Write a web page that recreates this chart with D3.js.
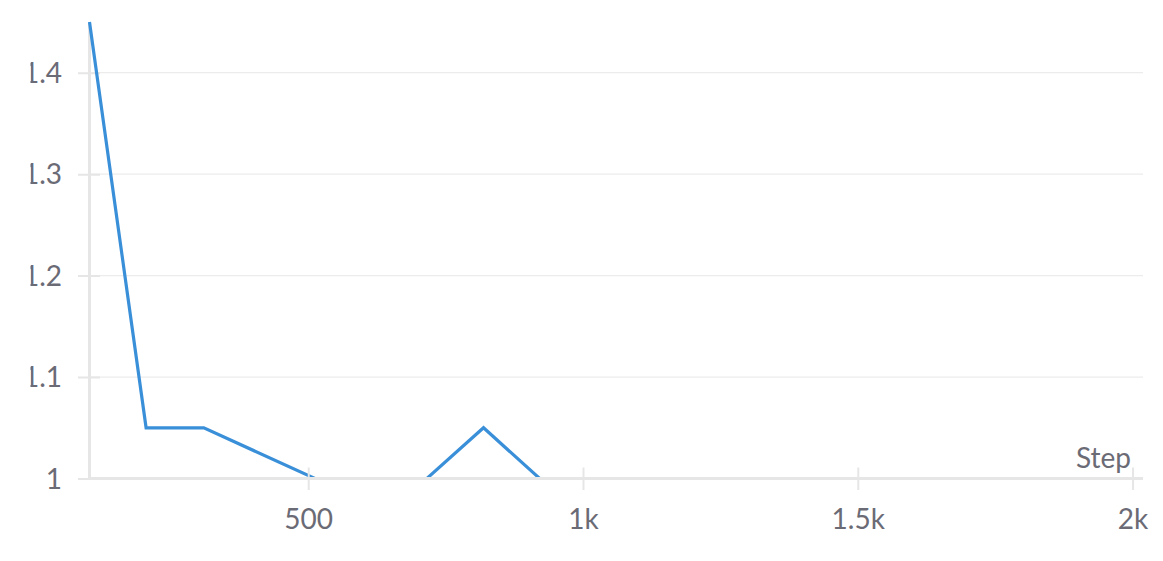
<!DOCTYPE html>
<html>
<head>
<meta charset="utf-8">
<script src="https://cdn.jsdelivr.net/npm/d3@7"></script>
<style>
  html, body { margin: 0; padding: 0; background: #fff; }
  svg { display: block; }
  text { font-family: Lato, "Open Sans", sans-serif; fill: #6b6b76; }
</style>
</head>
<body>
<svg id="chart" width="1163" height="561"></svg>
<script>
// ---- data ----
const steps  = [102, 205, 310, 512, 614, 716, 819, 921, 1023, 1125, 1227, 1329, 1431, 1533, 1636, 1738, 1840, 1942, 2019];
const values = [1.45, 1.05, 1.05, 1.0, 1.0, 1.0, 1.05, 1.0, 1.0, 1.0, 1.0, 1.0, 1.0, 1.0, 1.0, 1.0, 1.0, 1.0, 1.0];
const yTicks = [1, 1.1, 1.2, 1.3, 1.4];
const yTickLabels = ["1", "1.1", "1.2", "1.3", "1.4"];
const xTicks = [500, 1000, 1500, 2000];
const xTickLabels = ["500", "1k", "1.5k", "2k"];
const xTitle = "Step";

// ---- layout ----
const svg = d3.select("#chart");
const pLeft = 89.5, pRight = 1143, pTop = 22, pBottom = 478.5;
const x = d3.scaleLinear().domain([102, 2019]).range([pLeft, pRight]);
const y = d3.scaleLinear().domain([1, 1.45]).range([pBottom, pTop]);

const axisColor = "#e6e6e6";
const fontSize = "28px";

svg.append("clipPath").attr("id", "lblclip")
  .append("rect").attr("x", 30.5).attr("y", 0).attr("width", 1163).attr("height", 561);

// grid lines
svg.append("g").selectAll("line").data(yTicks.filter(d => d !== 1)).join("line")
  .attr("x1", pLeft).attr("x2", pRight)
  .attr("y1", d => y(d)).attr("y2", d => y(d))
  .attr("stroke", "#ececec").attr("stroke-width", 1.2);

// y axis (labels clipped at the left edge, as in the reference)
const yAxis = d3.axisLeft(y).tickValues(yTicks).tickSize(0).tickFormat((d, i) => yTickLabels[i]);
const yWrap = svg.append("g").attr("clip-path", "url(#lblclip)");
const yg = yWrap.append("g").attr("transform", `translate(${pLeft},0)`).call(yAxis);
yg.select(".domain").remove();
yg.selectAll(".tick text")
  .attr("x", -27.5).attr("dy", "0.35em")
  .style("font-size", fontSize)
  .attr("fill", "#6b6b76");
yg.selectAll(".tick").append("line")
  .attr("x1", -11.5).attr("x2", 10.5).attr("stroke", axisColor).attr("stroke-width", 2);
svg.append("line")
  .attr("x1", pLeft).attr("x2", pLeft).attr("y1", pTop).attr("y2", pBottom + 1.5)
  .attr("stroke", axisColor).attr("stroke-width", 3);

// series line
const line = d3.line().x((d, i) => x(steps[i])).y(d => y(d));
svg.append("path").datum(values)
  .attr("d", line)
  .attr("fill", "none")
  .attr("stroke", "#3a8fd9")
  .attr("stroke-width", 3.2)
  .attr("stroke-linejoin", "miter");

// x axis
const xAxis = d3.axisBottom(x).tickValues(xTicks).tickSize(0).tickFormat((d, i) => xTickLabels[i]);
const xg = svg.append("g").attr("transform", `translate(0,${pBottom})`).call(xAxis);
xg.select(".domain").remove();
xg.selectAll(".tick text")
  .attr("y", 50).attr("dy", 0)
  .style("font-size", fontSize)
  .attr("fill", "#6b6b76");
xg.selectAll(".tick").append("line")
  .attr("y1", -11).attr("y2", 11.5).attr("stroke", axisColor).attr("stroke-width", 2);
svg.append("line")
  .attr("x1", pLeft - 1.5).attr("x2", pRight).attr("y1", pBottom).attr("y2", pBottom)
  .attr("stroke", axisColor).attr("stroke-width", 3);

// x title
svg.append("text")
  .attr("x", 1131).attr("y", 468)
  .attr("text-anchor", "end")
  .style("font-size", fontSize)
  .text(xTitle);
</script>
</body>
</html>
